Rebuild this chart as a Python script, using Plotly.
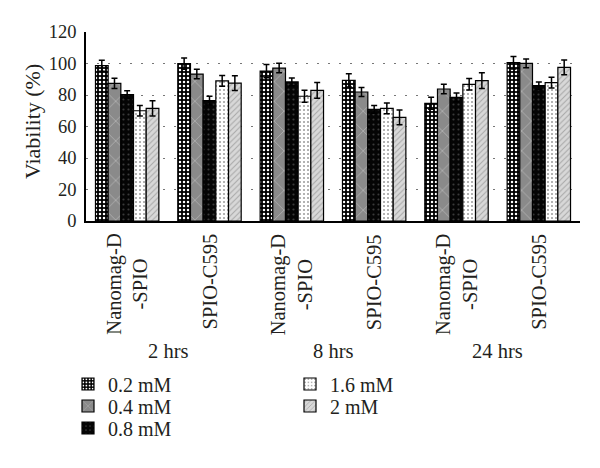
import plotly.graph_objects as go

# ---- data ----
positions = [0, 1, 2, 3, 4, 5]
cat_labels = ["Nanomag-D<br>-SPIO", "SPIO-C595", "Nanomag-D<br>-SPIO", "SPIO-C595", "Nanomag-D<br>-SPIO", "SPIO-C595"]
time_labels = ["2 hrs", "8 hrs", "24 hrs"]
time_pos = [0.5, 2.5, 4.5]
series_names = ["0.2 mM", "0.4 mM", "0.8 mM", "1.6 mM", "2 mM"]
y_title = "Viability (%)"

v02 = [98.6, 99.9, 95.2, 89.3, 74.7, 100.5]
v04 = [87.4, 93.3, 97.1, 81.9, 83.8, 100.1]
v08 = [80.2, 76.4, 88.3, 70.9, 78.5, 85.9]
v16 = [70.0, 89.0, 79.2, 71.5, 86.8, 87.8]
v20 = [71.5, 87.6, 83.0, 65.8, 89.1, 97.6]

e02 = [3.5, 3.6, 4.2, 4.2, 3.8, 4.0]
e04 = [3.2, 3.0, 3.0, 2.8, 3.0, 2.8]
e08 = [2.5, 2.8, 2.5, 2.5, 2.8, 2.3]
e16 = [3.4, 3.4, 3.8, 3.4, 3.6, 3.4]
e20 = [4.9, 4.7, 5.0, 4.7, 5.0, 4.7]

yticks = [0, 20, 40, 60, 80, 100, 120]

values = [v02, v04, v08, v16, v20]
errors = [e02, e04, e08, e16, e20]

patterns = [
    dict(shape=".", bgcolor="#000000", fgcolor="#ffffff", size=4, solidity=0.3, fillmode="replace"),
    dict(shape="x", bgcolor="#8a8a8a", fgcolor="#c4c4c4", size=14, solidity=0.08, fillmode="replace"),
    dict(shape=".", bgcolor="#050505", fgcolor="#3a3a3a", size=5, solidity=0.15, fillmode="replace"),
    dict(shape=".", bgcolor="#ffffff", fgcolor="#9a9a9a", size=4, solidity=0.2, fillmode="replace"),
    dict(shape="/", bgcolor="#d8d8d8", fgcolor="#a8a8a8", size=4, solidity=0.25, fillmode="replace"),
]
# one legend per series so the two-column layout and spacing can be matched
legend_ids = ["legend2", "legend3", "legend4", "legend5", "legend6"]
W, H = 600, 468
legend_px = [(68, 384), (68, 406), (68, 428), (290, 384), (290, 406)]

FONT = "Liberation Serif"
TXT = "#231f20"

fig = go.Figure()
for name, vals, errs, pat, lg in zip(series_names, values, errors, patterns, legend_ids):
    fig.add_trace(go.Bar(
        x=positions, y=vals, name=name, legend=lg, showlegend=True,
        marker=dict(color=pat["bgcolor"], pattern=pat, line=dict(color="#000000", width=1.2)),
        error_y=dict(type="data", array=errs, visible=True, color="#000000", thickness=1.5, width=3),
    ))

annotations = []
for p, lab in zip(positions, cat_labels):
    annotations.append(dict(
        x=p, y=-0.058, xref="x", yref="paper", text=lab, textangle=-90,
        showarrow=False, xanchor="center", yanchor="top", align="center",
        font=dict(family=FONT, size=20.5, color=TXT),
    ))
for p, lab in zip(time_pos, time_labels):
    annotations.append(dict(
        x=p, y=-0.69, xref="x", yref="paper", text=lab,
        showarrow=False, xanchor="center", yanchor="middle",
        font=dict(family=FONT, size=20.5, color=TXT),
    ))
# y-axis title
annotations.append(dict(
    x=-0.107, y=0.524, xref="paper", yref="paper", text=y_title, textangle=-90,
    showarrow=False, xanchor="center", yanchor="middle",
    font=dict(family=FONT, size=22, color=TXT),
))

layout_legends = {}
for lg, (lx, ly) in zip(legend_ids, legend_px):
    layout_legends[lg] = dict(
        x=lx / W, y=1 - ly / H, xref="container", yref="container",
        xanchor="left", yanchor="middle", orientation="v",
        font=dict(family=FONT, size=20, color=TXT), bgcolor="rgba(0,0,0,0)",
    )

fig.update_layout(
    width=W, height=H,
    margin=dict(l=86, r=20, t=32, b=247, autoexpand=False),
    paper_bgcolor="white", plot_bgcolor="white",
    barmode="group", bargap=0.23, bargroupgap=0,
    font=dict(family=FONT, size=18, color=TXT),
    annotations=annotations,
    xaxis=dict(
        range=[-0.5, 5.5], tickvals=positions, showticklabels=False,
        showline=True, linecolor="#000000", linewidth=1.5, showgrid=False,
        zeroline=False, ticks="",
    ),
    yaxis=dict(
        range=[0, 120], tickvals=yticks, showline=True, linecolor="#000000", linewidth=1.5,
        showgrid=True, gridcolor="#777777", gridwidth=1, griddash="2px,9px",
        zeroline=False, ticks="", ticklabelstandoff=4,
        tickfont=dict(family=FONT, size=18.5, color=TXT),
        automargin=False,
    ),
    **layout_legends,
)

fig.write_html("out.html", config={"displayModeBar": False},
               post_script="document.body.style.margin='0';")
